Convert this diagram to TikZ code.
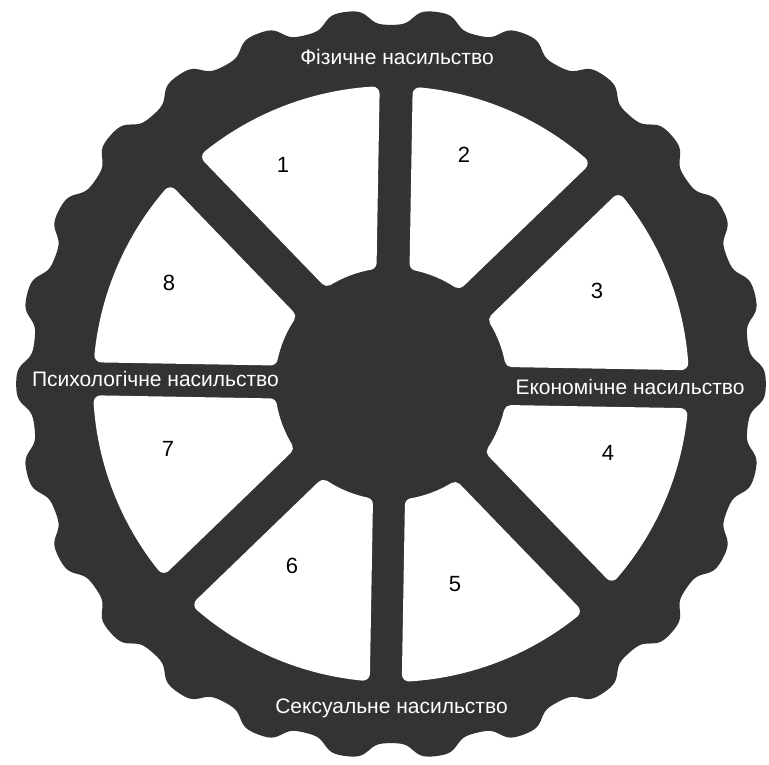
\documentclass[tikz,border=0pt]{standalone}
\usepackage{fontspec}
\setmainfont{Liberation Sans}
\definecolor{gearcol}{RGB}{51,51,51}
\tikzset{
  secstyle/.style={fill=white,draw=white,line width=14pt,line join=round},
  lbl/.style={text=white,anchor=base,inner sep=0pt,font=\fontsize{21}{24}\selectfont},
  num/.style={text=black,inner sep=0pt,font=\fontsize{22}{24}\selectfont}
}
\newcommand\dd{7}
\newcommand\rin{116}
\newcommand\rout{298}
\newcommand\wsec[4]{%
  \pgfmathsetmacro\ra{\rin+\dd}%
  \pgfmathsetmacro\rb{\rout-\dd}%
  \pgfmathsetmacro\sA{#1+asin((#3+\dd)/\ra)}%
  \pgfmathsetmacro\sB{#1+asin((#3+\dd)/\rb)}%
  \pgfmathsetmacro\sC{#2-asin((#4+\dd)/\rb)}%
  \pgfmathsetmacro\sD{#2-asin((#4+\dd)/\ra)}%
  \path[secstyle] (\sA:\ra pt) -- (\sB:\rb pt)
    arc[start angle=\sB, end angle=\sC, radius=\rb pt]
    -- (\sD:\ra pt)
    arc[start angle=\sD, end angle=\sA, radius=\ra pt] -- cycle;
}
\begin{document}
\begin{tikzpicture}[x=1pt,y=1pt]
\useasboundingbox (0,0) rectangle (769,764);
\begin{scope}[shift={(391,380)}]
  \fill[gearcol] plot[domain=0:360,samples=1561,variable=\t]
    (\t:{367+8.5*tanh(1.6*cos(26*\t))}) -- cycle;
  \begin{scope}[rotate=-1]
    \wsec{0}{45}{19}{20}
    \wsec{45}{90}{20}{16.5}
    \wsec{90}{135}{16.5}{20}
    \wsec{135}{180}{20}{16.5}
    \wsec{180}{225}{16.5}{20}
    \wsec{225}{270}{20}{16}
    \wsec{270}{315}{16}{20}
    \wsec{315}{360}{20}{19}
  \end{scope}
\end{scope}
\node[lbl] (phys) at (397,699) {Фізичне насильство};
\node[lbl] (psych) at (155.5,377) {Психологічне насильство};
\node[lbl] (econ) at (630,369) {Економічне насильство};
\node[lbl] (sex) at (391.5,51) {Сексуальне насильство};
\node[num] (n1) at (283,599) {1};
\node[num] (n2) at (464,609) {2};
\node[num] (n3) at (597,473) {3};
\node[num] (n4) at (608,311) {4};
\node[num] (n5) at (455,180) {5};
\node[num] (n6) at (292,198) {6};
\node[num] (n7) at (168,315) {7};
\node[num] (n8) at (169,481) {8};
\end{tikzpicture}
\end{document}
